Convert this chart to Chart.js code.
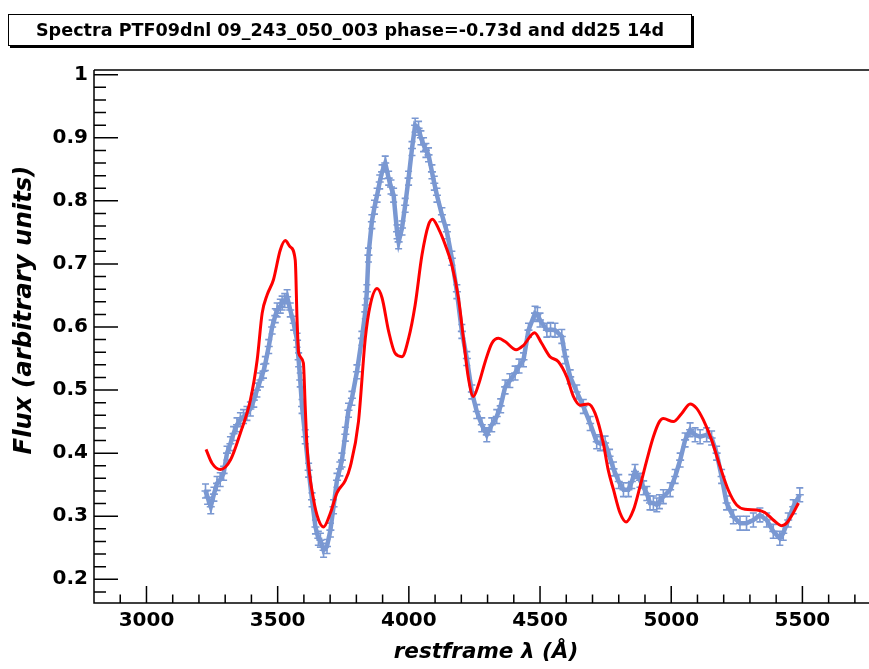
<!DOCTYPE html>
<html><head><meta charset="utf-8">
<script src="https://cdn.jsdelivr.net/npm/chart.js@4/dist/chart.umd.min.js"></script>
<style>
html,body{margin:0;padding:0;background:#fff;}
#wrap{position:relative;width:869px;height:669px;overflow:hidden;}
#c{position:absolute;left:0;top:0;}
#title{position:absolute;left:8px;top:14px;width:682px;height:30px;border:1px solid #000;box-shadow:2px 2px 0 #000;background:#fff;font:bold 17.6px "DejaVu Sans",sans-serif;text-align:center;line-height:30px;color:#000;white-space:nowrap;}
</style></head><body>
<div id="wrap"><canvas id="c" width="869" height="669"></canvas><div id="title">Spectra PTF09dnl 09_243_050_003 phase=-0.73d and dd25 14d</div></div>
<script>
// ---- data ----
const obsWave = [3225,3233,3245,3257,3269,3281,3294,3307,3320,3332,3345,3358,3370,3383,3396,3409,3421,3434,3446,3453,3466,3479,3491,3498,3510,3517,3527,3536,3548,3561,3574,3580,3586,3593,3605,3618,3631,3644,3655,3663,3675,3688,3701,3713,3726,3737,3745,3758,3770,3783,3802,3821,3834,3840,3846,3859,3869,3879,3889,3898,3910,3923,3932,3942,3955,3961,3974,3986,3999,4012,4024,4037,4046,4056,4065,4075,4088,4097,4107,4126,4145,4164,4183,4202,4221,4240,4259,4278,4297,4316,4335,4350,4367,4385,4405,4420,4437,4456,4481,4490,4500,4526,4540,4557,4583,4596,4615,4640,4665,4691,4716,4730,4748,4765,4780,4800,4818,4837,4850,4862,4881,4895,4907,4919,4932,4945,4955,4970,4996,5015,5034,5053,5072,5091,5110,5135,5154,5173,5192,5211,5237,5262,5287,5313,5338,5364,5389,5414,5427,5446,5465,5490];
const obsFlux = [0.340,0.330,0.315,0.335,0.352,0.358,0.368,0.400,0.415,0.431,0.445,0.453,0.458,0.463,0.470,0.484,0.500,0.516,0.530,0.542,0.569,0.600,0.618,0.627,0.633,0.638,0.642,0.648,0.627,0.606,0.579,0.548,0.516,0.474,0.426,0.373,0.326,0.283,0.265,0.262,0.246,0.252,0.278,0.315,0.357,0.375,0.389,0.430,0.468,0.487,0.529,0.582,0.624,0.656,0.714,0.767,0.790,0.809,0.830,0.846,0.860,0.836,0.822,0.809,0.751,0.735,0.757,0.793,0.836,0.883,0.920,0.915,0.900,0.889,0.880,0.873,0.846,0.828,0.809,0.778,0.751,0.709,0.656,0.593,0.550,0.497,0.466,0.445,0.429,0.445,0.458,0.475,0.505,0.515,0.527,0.538,0.548,0.595,0.622,0.620,0.611,0.595,0.596,0.595,0.585,0.553,0.521,0.497,0.474,0.447,0.418,0.415,0.416,0.395,0.375,0.355,0.342,0.342,0.355,0.371,0.357,0.345,0.336,0.321,0.321,0.318,0.323,0.331,0.342,0.363,0.389,0.421,0.437,0.429,0.426,0.429,0.424,0.400,0.363,0.321,0.299,0.289,0.289,0.294,0.302,0.294,0.276,0.265,0.273,0.294,0.315,0.334];
const obsErr = 0.011;

const modelWave = [3227,3250,3282,3320,3358,3396,3422,3441,3460,3484,3510,3529,3548,3567,3574,3580,3598,3605,3612,3637,3656,3675,3701,3726,3758,3777,3808,3834,3853,3879,3898,3923,3948,3974,3999,4024,4050,4075,4090,4113,4139,4164,4189,4208,4227,4246,4265,4291,4316,4342,4367,4409,4437,4479,4505,4538,4570,4602,4627,4653,4684,4710,4741,4760,4780,4805,4828,4856,4881,4907,4932,4955,4970,5008,5040,5072,5097,5122,5154,5186,5217,5249,5281,5326,5357,5389,5421,5440,5465,5485];
const modelFlux = [0.406,0.384,0.374,0.389,0.432,0.484,0.548,0.622,0.651,0.675,0.722,0.737,0.727,0.706,0.611,0.559,0.543,0.474,0.410,0.326,0.294,0.283,0.305,0.337,0.357,0.379,0.450,0.582,0.635,0.661,0.646,0.593,0.558,0.553,0.582,0.635,0.714,0.762,0.771,0.756,0.730,0.698,0.646,0.582,0.519,0.490,0.508,0.545,0.574,0.582,0.577,0.564,0.571,0.591,0.575,0.553,0.545,0.521,0.490,0.476,0.478,0.463,0.416,0.373,0.342,0.305,0.291,0.310,0.347,0.389,0.426,0.450,0.455,0.450,0.463,0.478,0.471,0.453,0.421,0.379,0.342,0.318,0.311,0.310,0.306,0.294,0.285,0.289,0.305,0.321];

const xTicks = [3000,3500,4000,4500,5000,5500];
const yTicks = [0.2,0.3,0.4,0.5,0.6,0.7,0.8,0.9,1.0];
const xMinorTicks = [2900,3000,3100,3200,3300,3400,3500,3600,3700,3800,3900,4000,4100,4200,4300,4400,4500,4600,4700,4800,4900,5000,5100,5200,5300,5400,5500,5600,5700];
const yMinorTicks = [0.18,0.20,0.22,0.24,0.26,0.28,0.30,0.32,0.34,0.36,0.38,0.40,0.42,0.44,0.46,0.48,0.50,0.52,0.54,0.56,0.58,0.60,0.62,0.64,0.66,0.68,0.70,0.72,0.74,0.76,0.78,0.80,0.82,0.84,0.86,0.88,0.90,0.92,0.94,0.96,0.98,1.00];
const xTitle = 'restframe \u03bb (\u00c5)';
const yTitle = 'Flux (arbitrary units)';

const FONT = '"DejaVu Sans", sans-serif';
const BLUE = 'rgb(122,152,210)';

const errorBars = {
  id: 'errorBars',
  beforeDatasetsDraw(chart) {
    const {ctx, chartArea: a, scales: {x, y}} = chart;
    ctx.save();
    ctx.beginPath(); ctx.rect(a.left, a.top, a.right - a.left, a.bottom - a.top); ctx.clip();
    ctx.strokeStyle = BLUE; ctx.lineWidth = 1.6;
    for (let i = 0; i < obsWave.length; i++) {
      const px = x.getPixelForValue(obsWave[i]);
      const py = y.getPixelForValue(obsFlux[i]);
      const pt = y.getPixelForValue(obsFlux[i] + obsErr);
      const pb = y.getPixelForValue(obsFlux[i] - obsErr);
      ctx.beginPath();
      ctx.moveTo(px, pt); ctx.lineTo(px, pb);
      ctx.moveTo(px - 4, py); ctx.lineTo(px + 4, py);
      ctx.moveTo(px - 3.5, pt); ctx.lineTo(px + 3.5, pt);
      ctx.moveTo(px - 3.5, pb); ctx.lineTo(px + 3.5, pb);
      ctx.stroke();
    }
    ctx.restore();
  }
};

const frame = {
  id: 'frame',
  afterDraw(chart) {
    const {ctx, chartArea: a, scales: {x, y}} = chart;
    ctx.save();
    ctx.strokeStyle = '#000'; ctx.lineWidth = 1.5;
    ctx.beginPath();
    ctx.moveTo(a.left, a.top); ctx.lineTo(a.right + 1, a.top);
    ctx.moveTo(a.left, a.top); ctx.lineTo(a.left, a.bottom);
    ctx.lineTo(a.right + 1, a.bottom);
    xMinorTicks.forEach(v => {
      const px = x.getPixelForValue(v);
      const len = xTicks.includes(v) ? 17 : 8.5;
      ctx.moveTo(px, a.bottom); ctx.lineTo(px, a.bottom - len);
    });
    yMinorTicks.forEach(v => {
      const py = y.getPixelForValue(v);
      const major = yTicks.some(t => Math.abs(t - v) < 1e-6);
      const len = major ? 24 : 12;
      ctx.moveTo(a.left, py); ctx.lineTo(a.left + len, py);
    });
    ctx.stroke();
    ctx.fillStyle = '#000';
    ctx.font = 'italic bold 21.5px ' + FONT;
    ctx.textAlign = 'center'; ctx.textBaseline = 'alphabetic';
    ctx.fillText(xTitle, 486, 658);
    ctx.font = 'italic bold 24.4px ' + FONT;
    ctx.translate(31, 310); ctx.rotate(-Math.PI / 2);
    ctx.fillText(yTitle, 0, 0);
    ctx.restore();
  }
};

new Chart(document.getElementById('c'), {
  type: 'line',
  data: {
    datasets: [
      {
        label: 'model',
        data: modelWave.map((w, i) => ({x: w, y: modelFlux[i]})),
        borderColor: 'rgb(255,0,0)', borderWidth: 3, pointRadius: 0,
        cubicInterpolationMode: 'monotone', fill: false
      },
      {
        label: 'data',
        data: obsWave.map((w, i) => ({x: w, y: obsFlux[i]})),
        showLine: true, pointRadius: 0, borderColor: BLUE, borderWidth: 4.5,
        tension: 0, fill: false
      }
    ]
  },
  options: {
    responsive: false, animation: false,
    layout: {padding: {left: 0, top: 70, right: 1, bottom: 0}},
    plugins: {legend: {display: false}, tooltip: {enabled: false}, title: {display: false}},
    scales: {
      x: {
        type: 'linear', min: 2800, max: 5750,
        grid: {display: false, drawTicks: false}, border: {display: false},
        afterBuildTicks: s => { s.ticks = xTicks.map(v => ({value: v})); },
        afterFit: s => { s.height = 66; },
        ticks: {color: '#000', font: {family: FONT, size: 20, weight: 'bold'}, padding: 6, maxRotation: 0,
          callback: v => String(v)}
      },
      y: {
        type: 'linear', min: 0.1624, max: 1.0075,
        grid: {display: false, drawTicks: false}, border: {display: false},
        afterBuildTicks: s => { s.ticks = yTicks.map(v => ({value: v})); },
        afterFit: s => { s.width = 94; },
        ticks: {color: '#000', font: {family: FONT, size: 20, weight: 'bold'}, padding: 6,
          callback: v => (Math.abs(v - 1) < 1e-9 ? '1' : v.toFixed(1))}
      }
    }
  },
  plugins: [errorBars, frame]
});
</script>
</body></html>
